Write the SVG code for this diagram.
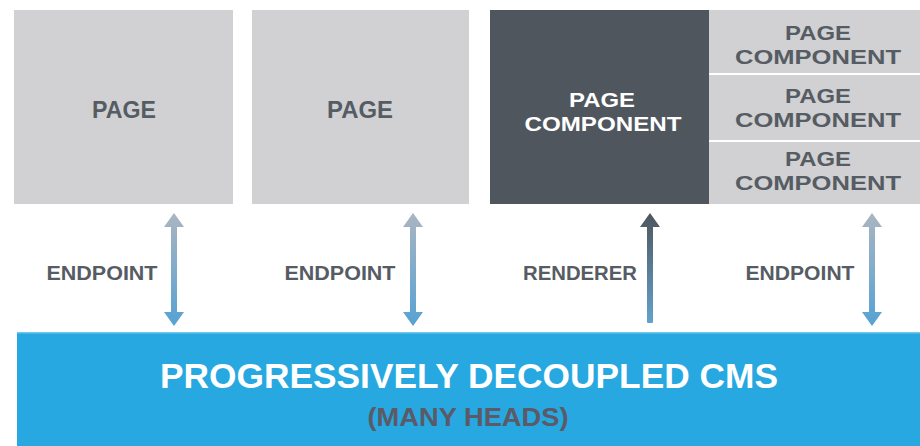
<svg xmlns="http://www.w3.org/2000/svg" width="920" height="446" viewBox="0 0 920 446">
<style>
.lt{fill:#d1d1d3}
.dk{fill:#4f565d}
.t{font-family:"Liberation Sans",Arial,sans-serif;font-weight:bold;text-anchor:middle}
.g{fill:#565c63}
.w{fill:#ffffff}
</style>
<defs>
<linearGradient id="ep" x1="0" y1="0" x2="0" y2="1">
<stop offset="0" stop-color="#aab5c1"/>
<stop offset="1" stop-color="#56a2d4"/>
</linearGradient>
<linearGradient id="rd" x1="0" y1="0" x2="0" y2="1">
<stop offset="0" stop-color="#4f565d"/>
<stop offset="1" stop-color="#64a1cc"/>
</linearGradient>
</defs>
<rect width="920" height="446" fill="#ffffff"/>
<g id="page1">
<rect class="lt" x="14" y="10" width="219" height="194"/>
<text class="t g" x="124" y="118" font-size="24" textLength="64" lengthAdjust="spacingAndGlyphs">PAGE</text>
</g>
<g id="page2">
<rect class="lt" x="252" y="10" width="217" height="194"/>
<text class="t g" x="360" y="118" font-size="24" textLength="66" lengthAdjust="spacingAndGlyphs">PAGE</text>
</g>
<g id="component-dark">
<rect class="dk" x="490" y="10" width="219" height="194"/>
<text class="t w" x="602" y="107" font-size="21" textLength="66" lengthAdjust="spacingAndGlyphs">PAGE</text>
<text class="t w" x="603" y="131" font-size="21" textLength="157" lengthAdjust="spacingAndGlyphs">COMPONENT</text>
</g>
<g id="component-1">
<rect class="lt" x="709" y="10" width="211" height="63"/>
<text class="t g" x="818" y="40" font-size="21" textLength="66" lengthAdjust="spacingAndGlyphs">PAGE</text>
<text class="t g" x="818" y="63.5" font-size="21" textLength="166" lengthAdjust="spacingAndGlyphs">COMPONENT</text>
</g>
<g id="component-2">
<rect class="lt" x="709" y="75" width="211" height="65"/>
<text class="t g" x="818" y="103" font-size="21" textLength="66" lengthAdjust="spacingAndGlyphs">PAGE</text>
<text class="t g" x="818" y="127" font-size="21" textLength="166" lengthAdjust="spacingAndGlyphs">COMPONENT</text>
</g>
<g id="component-3">
<rect class="lt" x="709" y="142" width="211" height="62"/>
<text class="t g" x="818" y="166" font-size="21" textLength="66" lengthAdjust="spacingAndGlyphs">PAGE</text>
<text class="t g" x="818" y="190" font-size="21" textLength="166" lengthAdjust="spacingAndGlyphs">COMPONENT</text>
</g>
<g id="cms">
<rect x="17" y="332" width="903" height="114" fill="#27a8e0"/>
<rect x="17" y="332" width="903" height="1.5" fill="#6fc6ea"/>
<text class="t w" x="469" y="388" font-size="35" textLength="618" lengthAdjust="spacingAndGlyphs">PROGRESSIVELY DECOUPLED CMS</text>
<text class="t" x="468" y="426" font-size="25" fill="#5b5a66" textLength="201" lengthAdjust="spacingAndGlyphs">(MANY HEADS)</text>
</g>
<g id="connectors">
<path fill="url(#ep)" d="M174 213 L184 227 L177 227 L177 312 L184 312 L174 326 L164 312 L171 312 L171 227 L164 227 Z"/>
<text class="t g" x="102" y="280" font-size="20" textLength="111" lengthAdjust="spacingAndGlyphs">ENDPOINT</text>
<path fill="url(#ep)" d="M413 213 L423 227 L416 227 L416 312 L423 312 L413 326 L403 312 L410 312 L410 227 L403 227 Z"/>
<text class="t g" x="340" y="280" font-size="20" textLength="111" lengthAdjust="spacingAndGlyphs">ENDPOINT</text>
<path fill="url(#rd)" d="M650 213 L660 227 L653 227 L653 322 Q653 323 652 323 L648 323 Q647 323 647 322 L647 227 L640 227 Z"/>
<text class="t g" x="580" y="280" font-size="20" textLength="114" lengthAdjust="spacingAndGlyphs">RENDERER</text>
<path fill="url(#ep)" d="M872 213 L882 227 L875 227 L875 312 L882 312 L872 326 L862 312 L869 312 L869 227 L862 227 Z"/>
<text class="t g" x="800" y="280" font-size="20" textLength="109" lengthAdjust="spacingAndGlyphs">ENDPOINT</text>
</g>
</svg>
